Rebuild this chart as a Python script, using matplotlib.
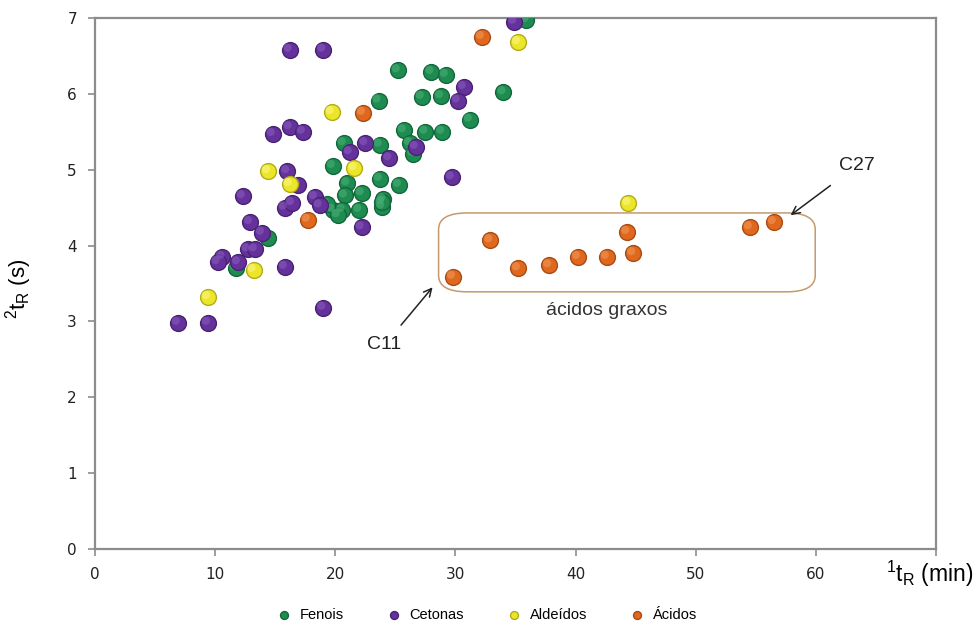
import matplotlib
matplotlib.use('Agg')
import matplotlib.pyplot as plt
from matplotlib.patches import FancyBboxPatch
from matplotlib.transforms import offset_copy

plt.rcParams['font.family'] = ['Liberation Sans', 'DejaVu Sans']
plt.rcParams['mathtext.default'] = 'regular'

# retention times (1tR em min, 2tR em s) por classe
fenois_x = [35.9, 25.2, 28.0, 29.2, 27.2, 28.8, 34.0, 23.6, 31.2, 25.7, 27.5, 28.9,
            20.7, 23.7, 26.2, 26.5, 19.8, 21.0, 23.7, 25.3, 20.8, 22.2, 24.0, 19.8,
            20.6, 22.0, 23.9, 23.9, 19.3, 20.2, 14.4, 11.7]
fenois_y = [6.97, 6.31, 6.29, 6.25, 5.96, 5.97, 6.02, 5.91, 5.66, 5.52, 5.50, 5.50,
            5.35, 5.33, 5.35, 5.21, 5.05, 4.82, 4.88, 4.80, 4.66, 4.69, 4.61, 4.47,
            4.47, 4.47, 4.51, 4.57, 4.55, 4.40, 4.10, 3.70]

cetonas_x = [34.9, 16.2, 19.0, 30.7, 30.2, 14.8, 16.2, 17.3, 21.2, 22.5, 26.7, 24.5,
             16.0, 16.9, 29.7, 12.3, 15.8, 16.4, 18.3, 18.7, 12.9, 22.2, 13.9, 12.7,
             13.3, 10.6, 10.2, 11.9, 15.8, 6.9, 9.4, 19.0]
cetonas_y = [6.95, 6.58, 6.58, 6.09, 5.91, 5.47, 5.56, 5.50, 5.23, 5.35, 5.30, 5.15,
             4.98, 4.80, 4.90, 4.65, 4.50, 4.56, 4.64, 4.53, 4.31, 4.24, 4.17, 3.95,
             3.95, 3.85, 3.78, 3.78, 3.72, 2.98, 2.98, 3.18]

aldeidos_x = [35.2, 19.7, 14.4, 21.6, 16.2, 13.2, 9.4, 44.4]
aldeidos_y = [6.68, 5.76, 4.98, 5.02, 4.81, 3.68, 3.32, 4.56]

acidos_x = [32.2, 22.3, 17.7, 29.8, 32.9, 35.2, 37.8, 40.2, 42.6, 44.8, 44.3, 54.5, 56.5]
acidos_y = [6.75, 5.75, 4.34, 3.59, 4.07, 3.70, 3.74, 3.85, 3.85, 3.90, 4.18, 4.24, 4.31]

series = [
    ('Fenois', fenois_x, fenois_y, '#1e8c50', '#13673a', '#4cb27a'),
    ('Cetonas', cetonas_x, cetonas_y, '#64329a', '#482273', '#8a5cc0'),
    ('Aldeídos', aldeidos_x, aldeidos_y, '#ece62a', '#b3ab1a', '#fbf88a'),
    ('Ácidos', acidos_x, acidos_y, '#e0681e', '#a84c14', '#f29a5a'),
]

fig = plt.figure(figsize=(9.76, 6.35), dpi=100)
ax = fig.add_axes([0.0973, 0.1354, 0.8617, 0.8363])

# bolinhas com um brilho leve para parecer esfera
brilho = offset_copy(ax.transData, fig=fig, x=-1.5, y=1.5, units='points')
for nome, xs, ys, cor, borda, luz in series:
    ax.scatter(xs, ys, s=130, color=cor, edgecolors=borda, linewidths=1.0,
               label=nome, zorder=3)
    ax.scatter(xs, ys, s=35, color=luz, edgecolors='none', alpha=0.55,
               transform=brilho, zorder=3)

ax.set_xlim(0, 70)
ax.set_ylim(0, 7)
ax.set_xticks(range(0, 71, 10))
ax.set_xticklabels([str(v) for v in range(0, 61, 10)] + [''])
ax.set_yticks(range(0, 8))

for sp in ax.spines.values():
    sp.set_color('#8c8c8c')
    sp.set_linewidth(1.6)
ax.tick_params(direction='out', length=5, width=1.2, color='#8c8c8c',
               labelsize=11, labelcolor='#222222', pad=8)
for lab in ax.get_xticklabels() + ax.get_yticklabels():
    lab.set_family(['DejaVu Sans'])

ax.set_ylabel(r'$^{2}$t$_{R}$ (s)', fontsize=16)
ax.yaxis.set_label_coords(-0.072, 0.49)
fig.text(0.997, 0.097, r'$^{1}$t$_{R}$ (min)', fontsize=16.5,
         ha='right', va='center')

# caixa dos acidos graxos
caixa = FancyBboxPatch((28.6, 3.39), 31.35, 1.04,
                       boxstyle='round,pad=0,rounding_size=2.4',
                       mutation_aspect=0.09, fill=False,
                       edgecolor='#c49a6c', linewidth=1.1, zorder=2)
ax.add_patch(caixa)
ax.text(42.6, 3.15, 'ácidos graxos', fontsize=14, ha='center', va='center',
        color='#333333')

ax.annotate('C11', xy=(28.1, 3.45), xytext=(24.1, 2.69), fontsize=14,
            ha='center', va='center', color='#222222',
            arrowprops=dict(arrowstyle='->', color='#222222', lw=1.1,
                            shrinkA=8, shrinkB=0))
ax.annotate('C27', xy=(57.9, 4.40), xytext=(63.4, 5.05), fontsize=14,
            ha='center', va='center', color='#222222',
            arrowprops=dict(arrowstyle='->', color='#222222', lw=1.1,
                            shrinkA=10, shrinkB=0))

handles, labels = ax.get_legend_handles_labels()
fig.legend(handles, labels, loc='lower center', bbox_to_anchor=(0.495, 0.0),
           ncol=4, frameon=False, fontsize=10.5, markerscale=0.5,
           handletextpad=0.1, columnspacing=2.4)

fig.savefig('out.png', dpi=100)
